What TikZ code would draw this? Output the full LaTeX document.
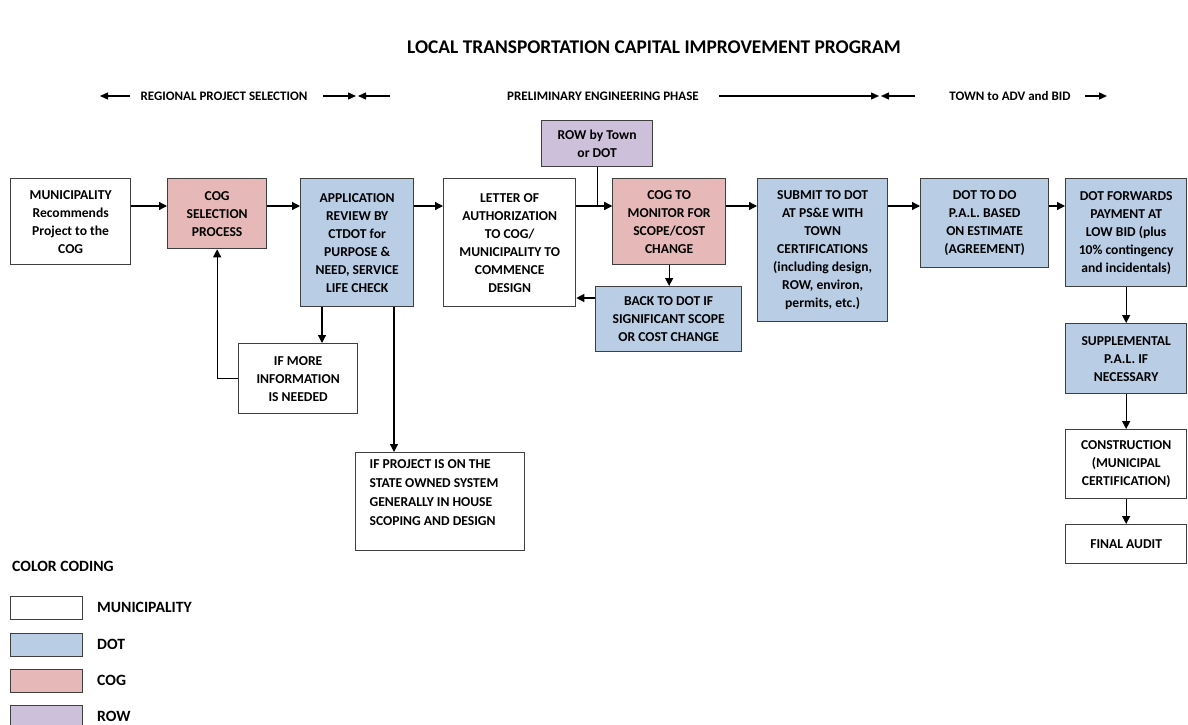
\documentclass[tikz,border=0pt]{standalone}
\usepackage{fontspec}
\setmainfont{Carlito}
\usetikzlibrary{arrows.meta}
\definecolor{dotblue}{HTML}{B9CDE5}
\definecolor{cogpink}{HTML}{E6B9B8}
\definecolor{rowpurple}{HTML}{CCC0DA}
\definecolor{edgec}{HTML}{3F3F3F}
\begin{document}
\begin{tikzpicture}[x=1pt,y=-1pt,
  box/.style={draw=edgec, line width=1.3pt, align=center, inner sep=1pt,
    font=\bfseries\fontsize{13.6}{18}\selectfont, anchor=north west},
  muni/.style={box, fill=white},
  dot/.style={box, fill=dotblue},
  cog/.style={box, fill=cogpink},
  rowc/.style={box, fill=rowpurple},
  arr/.style={draw=black, line width=1.3pt, -{Triangle[length=8pt,width=8pt]}},
  parr/.style={draw=black, line width=1.3pt, -{Triangle[length=8pt,width=7pt]}},
  phase/.style={font=\bfseries\fontsize{13}{15}\selectfont, inner sep=0pt},
  legbox/.style={draw=edgec, line width=1.3pt, minimum width=72pt, minimum height=23pt, anchor=north west, inner sep=0pt},
  leglab/.style={font=\bfseries\fontsize{15.7}{18}\selectfont, anchor=west, inner sep=0pt}
]
\useasboundingbox (0,0) rectangle (1188,725);
\fill[white] (0,0) rectangle (1188,725);

% title
\node[font=\bfseries\fontsize{19.4}{22}\selectfont, inner sep=0pt] (title) at (654,47) {LOCAL TRANSPORTATION CAPITAL IMPROVEMENT PROGRAM};

% phases
\node[phase] (rps) at (224,96) {REGIONAL PROJECT SELECTION};
\node[phase] (pep) at (603,96) {PRELIMINARY ENGINEERING PHASE};
\node[phase] (tab) at (1010,96) {TOWN to ADV and BID};
\coordinate (a1s) at (130,96); \coordinate (a1e) at (100,96);
\coordinate (a2s) at (323,96); \coordinate (a2e) at (356,96);
\coordinate (a3s) at (390,96); \coordinate (a3e) at (358,96);
\coordinate (a4s) at (719,96); \coordinate (a4e) at (879,96);
\coordinate (a5s) at (915,96); \coordinate (a5e) at (881,96);
\coordinate (a6s) at (1085,96); \coordinate (a6e) at (1107,96);
\draw[parr] (a1s) -- (a1e);
\draw[parr] (a2s) -- (a2e);
\draw[parr] (a3s) -- (a3e);
\draw[parr] (a4s) -- (a4e);
\draw[parr] (a5s) -- (a5e);
\draw[parr] (a6s) -- (a6e);

% boxes
\node[muni, minimum width=120pt, minimum height=86pt] (muni) at (10,178) {MUNICIPALITY\\Recommends\\Project to the\\COG};
\node[cog, minimum width=99pt, minimum height=70pt] (cogsel) at (167,178) {COG\\SELECTION\\PROCESS};
\node[dot, minimum width=113pt, minimum height=128pt] (app) at (300,178) {APPLICATION\\REVIEW BY\\CTDOT for\\PURPOSE \&\\NEED, SERVICE\\LIFE CHECK};
\node[muni, minimum width=132pt, minimum height=128pt] (letter) at (443,178) {LETTER OF\\AUTHORIZATION\\TO COG/\\MUNICIPALITY TO\\COMMENCE\\DESIGN};
\node[rowc, minimum width=111pt, minimum height=46pt] (row) at (541,120) {ROW by Town\\or DOT};
\node[cog, minimum width=113pt, minimum height=86pt] (cogm) at (612,178) {COG TO\\MONITOR FOR\\SCOPE/COST\\CHANGE};
\node[dot, minimum width=146pt, minimum height=65pt] (back) at (595,286) {BACK TO DOT IF\\SIGNIFICANT SCOPE\\OR COST CHANGE};
\node[dot, minimum width=130pt, minimum height=143pt] (submit) at (757,178) {SUBMIT TO DOT\\AT PS\&E WITH\\TOWN\\CERTIFICATIONS\\(including design,\\ROW, environ,\\permits, etc.)};
\node[dot, minimum width=128pt, minimum height=89pt] (dotdo) at (920,178) {DOT TO DO\\P.A.L. BASED\\ON ESTIMATE\\(AGREEMENT)};
\node[dot, minimum width=121pt, minimum height=108pt] (fwd) at (1065,178) {DOT FORWARDS\\PAYMENT AT\\LOW BID (plus\\10\% contingency\\and incidentals)};
\node[dot, minimum width=121pt, minimum height=70pt] (supp) at (1065,323) {SUPPLEMENTAL\\P.A.L. IF\\NECESSARY};
\node[muni, minimum width=121pt, minimum height=69pt] (constr) at (1065,429) {CONSTRUCTION\\(MUNICIPAL\\CERTIFICATION)};
\node[muni, minimum width=121pt, minimum height=39pt] (final) at (1065,524) {FINAL AUDIT};
\node[muni, minimum width=119pt, minimum height=70pt] (ifmore) at (238,343) {IF MORE\\INFORMATION\\IS NEEDED};
\node[muni, minimum width=169pt, minimum height=98pt, align=flush left, text width=141pt, inner xsep=14pt, inner ysep=1pt,
  font=\bfseries\fontsize{13.6}{19}\selectfont] (ifproj) at (355,452) {IF PROJECT IS ON THE\\STATE OWNED SYSTEM\\GENERALLY IN HOUSE\\SCOPING AND DESIGN\\\mbox{}};

% main flow connectors
\draw[arr] (muni.east |- 0,206) -- (cogsel.west |- 0,206);
\draw[arr] (cogsel.east |- 0,206) -- (app.west |- 0,206);
\draw[arr] (app.east |- 0,206) -- (letter.west |- 0,206);
\draw[arr] (letter.east |- 0,206) -- (cogm.west |- 0,206);
\draw[arr] (row.south) -- (row.south |- 0,206) -- (cogm.west |- 0,206);
\draw[arr] (cogm.east |- 0,206) -- (submit.west |- 0,206);
\draw[arr] (submit.east |- 0,206) -- (dotdo.west |- 0,206);
\draw[arr] (dotdo.east |- 0,206) -- (fwd.west |- 0,206);
\draw[arr] (cogm.south) -- (cogm.south |- back.north);
\draw[arr] (back.west |- 0,298) -- (letter.east |- 0,298);
\draw[arr] (app.south -| 322,0) -- (ifmore.north -| 322,0);
\draw[arr] (app.south -| 394,0) -- (ifproj.north -| 394,0);
\draw[arr] (ifmore.west) -| (cogsel.south);
\draw[arr] (fwd.south) -- (supp.north);
\draw[arr] (supp.south) -- (constr.north);
\draw[arr] (constr.south) -- (final.north);

% legend
\node[font=\bfseries\fontsize{15.7}{18}\selectfont, anchor=west, inner sep=0pt] (lgtitle) at (12,566) {COLOR CODING};
\node[legbox, fill=white] (lg1) at (10,596) {};
\node[legbox, fill=dotblue] (lg2) at (10,633) {};
\node[legbox, fill=cogpink] (lg3) at (10,669) {};
\begin{scope}
\clip (0,0) rectangle (1188,725);
\node[legbox, fill=rowpurple] (lg4) at (10,705) {};
\end{scope}
\node[leglab] (ll1) at (97,607) {MUNICIPALITY};
\node[leglab] (ll2) at (97,644) {DOT};
\node[leglab] (ll3) at (97,680) {COG};
\node[leglab] (ll4) at (97,716) {ROW};
\end{tikzpicture}
\end{document}
